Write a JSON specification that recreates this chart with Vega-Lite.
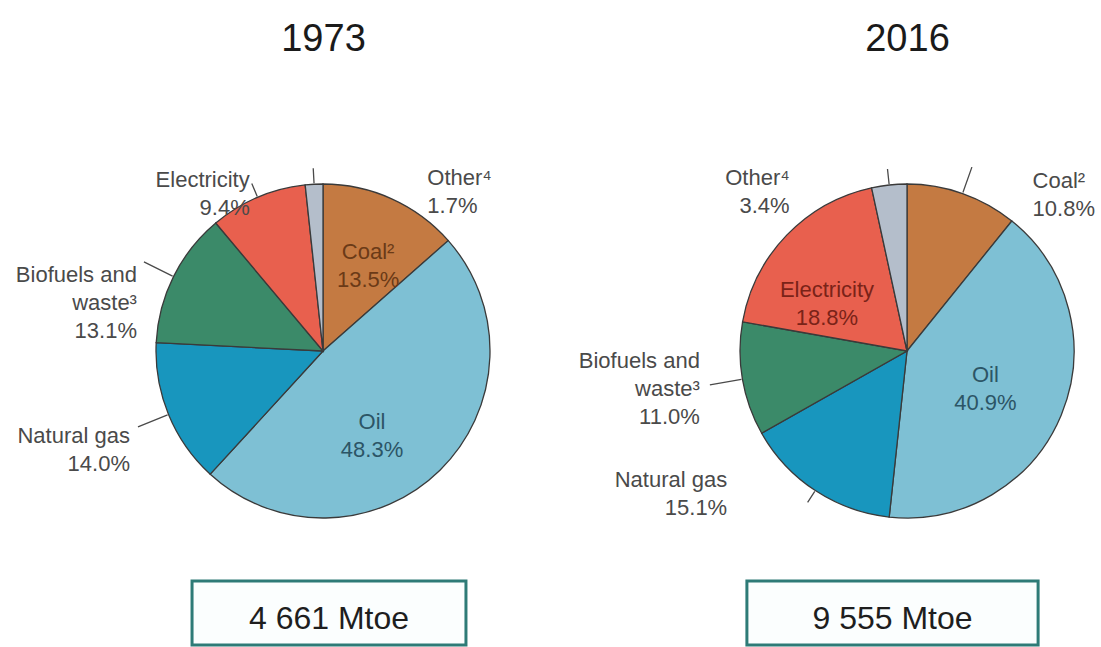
{
  "$schema": "https://vega.github.io/schema/vega-lite/v6.json",
  "width": 1101,
  "height": 647,
  "autosize": {"type": "none"},
  "padding": 0,
  "background": "white",
  "config": {"view": {"stroke": null}, "font": "Liberation Sans", "text": {"font": "Liberation Sans"}},
  "datasets": {
    "shares": [
      {"year": "1973", "cat": "Coal", "o": 1, "value": 13.5, "label": "Coal²\n13.5%"},
      {"year": "1973", "cat": "Oil", "o": 2, "value": 48.3, "label": "Oil\n48.3%"},
      {"year": "1973", "cat": "Natural gas", "o": 3, "value": 14.0, "label": "Natural gas\n14.0%"},
      {"year": "1973", "cat": "Biofuels and waste", "o": 4, "value": 13.1, "label": "Biofuels and\nwaste³\n13.1%"},
      {"year": "1973", "cat": "Electricity", "o": 5, "value": 9.4, "label": "Electricity\n9.4%"},
      {"year": "1973", "cat": "Other", "o": 6, "value": 1.7, "label": "Other⁴\n1.7%"},
      {"year": "2016", "cat": "Coal", "o": 1, "value": 10.8, "label": "Coal²\n10.8%"},
      {"year": "2016", "cat": "Oil", "o": 2, "value": 40.9, "label": "Oil\n40.9%"},
      {"year": "2016", "cat": "Natural gas", "o": 3, "value": 15.1, "label": "Natural gas\n15.1%"},
      {"year": "2016", "cat": "Biofuels and waste", "o": 4, "value": 11.0, "label": "Biofuels and\nwaste³\n11.0%"},
      {"year": "2016", "cat": "Electricity", "o": 5, "value": 18.8, "label": "Electricity\n18.8%"},
      {"year": "2016", "cat": "Other", "o": 6, "value": 3.4, "label": "Other⁴\n3.4%"}
    ],
    "totals": [
      {"year": "1973", "total": "4 661 Mtoe"},
      {"year": "2016", "total": "9 555 Mtoe"}
    ]
  },
  "resolve": {"scale": {"x": "independent"}},
  "layer": [
    {
      "data": {"name": "shares"},
      "encoding": {
        "x": {"field": "year", "type": "nominal", "scale": {"type": "point", "padding": 0, "domain": ["1973", "2016"], "range": [323, 907]},
          "axis": {"orient": "top", "offset": -50, "title": null, "domain": false, "ticks": false, "labelPadding": 0, "labelBaseline": "alphabetic", "labelAngle": 0, "labelFontSize": 38, "labelColor": "#1a1a1a", "labelFont": "Liberation Sans", "grid": false}},
        "y": {"datum": "pie", "type": "nominal", "scale": {"type": "point", "padding": 0, "domain": ["pie", "total"], "range": [351, 613]}, "axis": null},
        "theta": {"field": "value", "type": "quantitative", "stack": true, "scale": {"domain": [0, 100]}},
        "order": {"field": "o", "type": "quantitative"},
        "detail": {"field": "cat", "type": "nominal"}
      },
      "layer": [
        {
          "transform": [{"filter": "datum.year === '1973'"}],
          "layer": [
            {"mark": {"type": "arc", "outerRadius": 167, "stroke": "#3a3a3a", "strokeWidth": 1.3},
             "encoding": {"color": {"field": "cat", "type": "nominal", "legend": null,
               "scale": {"domain": ["Coal", "Oil", "Natural gas", "Biofuels and waste", "Electricity", "Other"], "range": ["#c47a42", "#7ec0d4", "#1896be", "#3b8a69", "#e8604e", "#b4becb"]}}}},
            {"mark": {"type": "arc", "innerRadius": 168, "padAngle": 3.1416, "filled": false, "stroke": "#4a4a4a", "strokeWidth": 1.3,
               "outerRadius": {"expr": "datum.cat === 'Electricity' ? 182 : datum.cat === 'Other' ? 183 : 200"}},
             "encoding": {"strokeOpacity": {"condition": {"test": "datum.cat === 'Coal' || datum.cat === 'Oil'", "value": 0}, "value": 1}}},
            {"mark": {"type": "text", "radius": 200, "align": "right", "baseline": "middle", "lineBreak": "\n", "fontSize": 22, "lineHeight": 28, "color": "#4a4a4a",
               "dx": {"expr": "datum.cat === 'Electricity' ? 5 : datum.cat === 'Biofuels and waste' ? -7 : -8"},
               "dy": {"expr": "datum.cat === 'Natural gas' ? 9 : 13"}},
             "encoding": {"text": {"condition": {"test": "datum.cat === 'Natural gas' || datum.cat === 'Biofuels and waste' || datum.cat === 'Electricity'", "field": "label"}, "value": ""}}},
            {"mark": {"type": "text", "radius": 200, "align": "left", "baseline": "middle", "lineBreak": "\n", "fontSize": 22, "lineHeight": 28, "color": "#4a4a4a", "dx": 115, "dy": 27},
             "encoding": {"text": {"condition": {"test": "datum.cat === 'Other'", "field": "label"}, "value": ""}}},
            {"mark": {"type": "text", "radius": 100, "align": "center", "baseline": "middle", "lineBreak": "\n", "fontSize": 22, "lineHeight": 28,
               "dx": {"expr": "datum.cat === 'Coal' ? 4 : -21"},
               "dy": {"expr": "datum.cat === 'Coal' ? -8 : 0"}},
             "encoding": {"text": {"condition": {"test": "datum.cat === 'Coal' || datum.cat === 'Oil'", "field": "label"}, "value": ""},
               "fill": {"condition": {"test": "datum.cat === 'Coal'", "value": "#6b3a17"}, "value": "#2c5566"}}}
          ]
        },
        {
          "transform": [{"filter": "datum.year === '2016'"}],
          "layer": [
            {"mark": {"type": "arc", "outerRadius": 167, "stroke": "#3a3a3a", "strokeWidth": 1.3},
             "encoding": {"color": {"field": "cat", "type": "nominal", "legend": null,
               "scale": {"domain": ["Coal", "Oil", "Natural gas", "Biofuels and waste", "Electricity", "Other"], "range": ["#c47a42", "#7ec0d4", "#1896be", "#3b8a69", "#e8604e", "#b4becb"]}}}},
            {"mark": {"type": "arc", "innerRadius": 168, "padAngle": 3.1416, "filled": false, "stroke": "#4a4a4a", "strokeWidth": 1.3,
               "outerRadius": {"expr": "datum.cat === 'Other' ? 183 : datum.cat === 'Coal' ? 195 : datum.cat === 'Natural gas' ? 181 : 200"}},
             "encoding": {"strokeOpacity": {"condition": {"test": "datum.cat === 'Electricity' || datum.cat === 'Oil'", "value": 0}, "value": 1}}},
            {"mark": {"type": "text", "radius": 200, "align": "right", "baseline": "middle", "lineBreak": "\n", "fontSize": 22, "lineHeight": 28, "color": "#4a4a4a",
               "dx": {"expr": "datum.cat === 'Other' ? -96 : datum.cat === 'Biofuels and waste' ? -10 : -70"},
               "dy": {"expr": "datum.cat === 'Other' ? 26 : datum.cat === 'Biofuels and waste' ? -24 : -38"}},
             "encoding": {"text": {"condition": {"test": "datum.cat === 'Natural gas' || datum.cat === 'Biofuels and waste' || datum.cat === 'Other'", "field": "label"}, "value": ""}}},
            {"mark": {"type": "text", "radius": 200, "align": "left", "baseline": "middle", "lineBreak": "\n", "fontSize": 22, "lineHeight": 28, "color": "#4a4a4a", "dx": 59, "dy": 19},
             "encoding": {"text": {"condition": {"test": "datum.cat === 'Coal'", "field": "label"}, "value": ""}}},
            {"mark": {"type": "text", "radius": 100, "align": "center", "baseline": "middle", "lineBreak": "\n", "fontSize": 22, "lineHeight": 28,
               "dx": {"expr": "datum.cat === 'Electricity' ? -8 : -14"},
               "dy": {"expr": "datum.cat === 'Electricity' ? 8 : -14"}},
             "encoding": {"text": {"condition": {"test": "datum.cat === 'Electricity' || datum.cat === 'Oil'", "field": "label"}, "value": ""},
               "fill": {"condition": {"test": "datum.cat === 'Electricity'", "value": "#7a2318"}, "value": "#2c5566"}}}
          ]
        }
      ]
    },
    {
      "data": {"name": "totals"},
      "encoding": {
        "x": {"field": "year", "type": "nominal", "scale": {"type": "point", "padding": 0, "domain": ["1973", "2016"], "range": [329, 892.5]}, "axis": null},
        "y": {"datum": "total", "type": "nominal", "scale": {"type": "point", "padding": 0, "domain": ["pie", "total"], "range": [351, 613]}, "axis": null}
      },
      "layer": [
        {"transform": [{"filter": "datum.year === '1973'"}],
         "mark": {"type": "point", "shape": "M-4.28,-1H4.28V1H-4.28Z", "size": 4096, "filled": true, "fill": "#fbfefe", "fillOpacity": 1, "stroke": "#2e7b77", "strokeWidth": 3, "opacity": 1}},
        {"transform": [{"filter": "datum.year === '2016'"}],
         "mark": {"type": "point", "shape": "M-4.55,-1H4.55V1H-4.55Z", "size": 4096, "filled": true, "fill": "#fbfefe", "fillOpacity": 1, "stroke": "#2e7b77", "strokeWidth": 3, "opacity": 1}},
        {"mark": {"type": "text", "fontSize": 32, "color": "#1e1e1e", "baseline": "middle", "align": "center", "dy": 6},
         "encoding": {"text": {"field": "total", "type": "nominal"}}}
      ]
    }
  ]
}
